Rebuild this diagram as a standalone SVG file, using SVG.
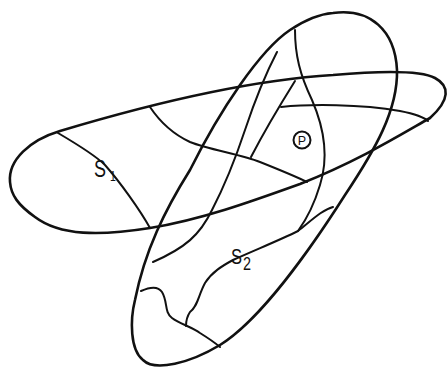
<svg xmlns="http://www.w3.org/2000/svg" width="448" height="372" viewBox="0 0 448 372">
<style>
.outer{fill:none;stroke:#111;stroke-width:2.6;stroke-linecap:round;stroke-linejoin:round}
.inner{fill:none;stroke:#111;stroke-width:2;stroke-linecap:round;stroke-linejoin:round}
.lbl{font-family:"Liberation Sans",Arial,sans-serif;fill:#111}
</style>
<rect width="448" height="372" fill="#fff"/>
<g id="S1">
<path class="outer" d="M10,182 C8,160 30,140 60,131 C150,104 250,80 333,75 C380,71 420,70 435,78 C450,86 450,100 430,118 C400,135 360,160 300,184 C250,202 200,220 150,228 C100,236 60,236 35,217 C18,205 11,195 10,182 Z"/>
<text class="lbl" transform="translate(94,177) scale(0.75,1)" font-size="24">S</text>
<text class="lbl" transform="translate(110,181) scale(0.75,1)" font-size="14">1</text>
</g>
<g id="S2">
<path class="outer" d="M333,13 C370,8 395,30 397,70 C398,110 375,150 345,195 C310,250 260,320 220,345 C190,363 155,372 143,360 C130,350 130,320 135,300 C145,250 165,210 190,170 C220,110 260,50 290,30 C305,20 320,14 333,13 Z"/>
<text class="lbl" transform="translate(231,264) scale(0.75,1)" font-size="22">S</text>
<text class="lbl" transform="translate(243,270) scale(0.8,1)" font-size="18">2</text>
</g>
<g id="P">
<circle class="inner" cx="302" cy="140" r="8.5"/>
<text class="lbl" x="302" y="144.5" font-size="12.5" text-anchor="middle">P</text>
</g>
<g id="connectors">
<path class="inner" d="M58,133 C75,143 95,155 105,165 C120,182 140,210 150,228"/>
<path class="inner" d="M150,107 C160,122 175,135 190,142 C210,150 240,154 260,162 C280,170 295,176 307,182"/>
<path class="inner" d="M277,52 C265,75 255,100 245,130 C235,160 225,185 212,210 C200,235 185,248 153,262"/>
<path class="inner" d="M295,81 C280,105 265,130 251,157"/>
<path class="inner" d="M281,107 C310,104 360,104 400,111 C415,114 424,117 428,121"/>
<path class="inner" d="M295,30 C295,55 300,75 312,100 C325,130 328,160 320,185 C314,205 306,220 298,231"/>
<path class="inner" d="M333,207 C322,210 312,220 298,231 C280,240 255,250 233,260 C222,266 212,272 205,283 C198,296 198,306 190,312 C186,318 186,322 186,326"/>
<path class="inner" d="M141,291 C150,287 158,286 162,292 C168,302 164,312 172,318 C180,324 192,327 200,333 C208,338 214,342 220,347"/>
</g>
</svg>
